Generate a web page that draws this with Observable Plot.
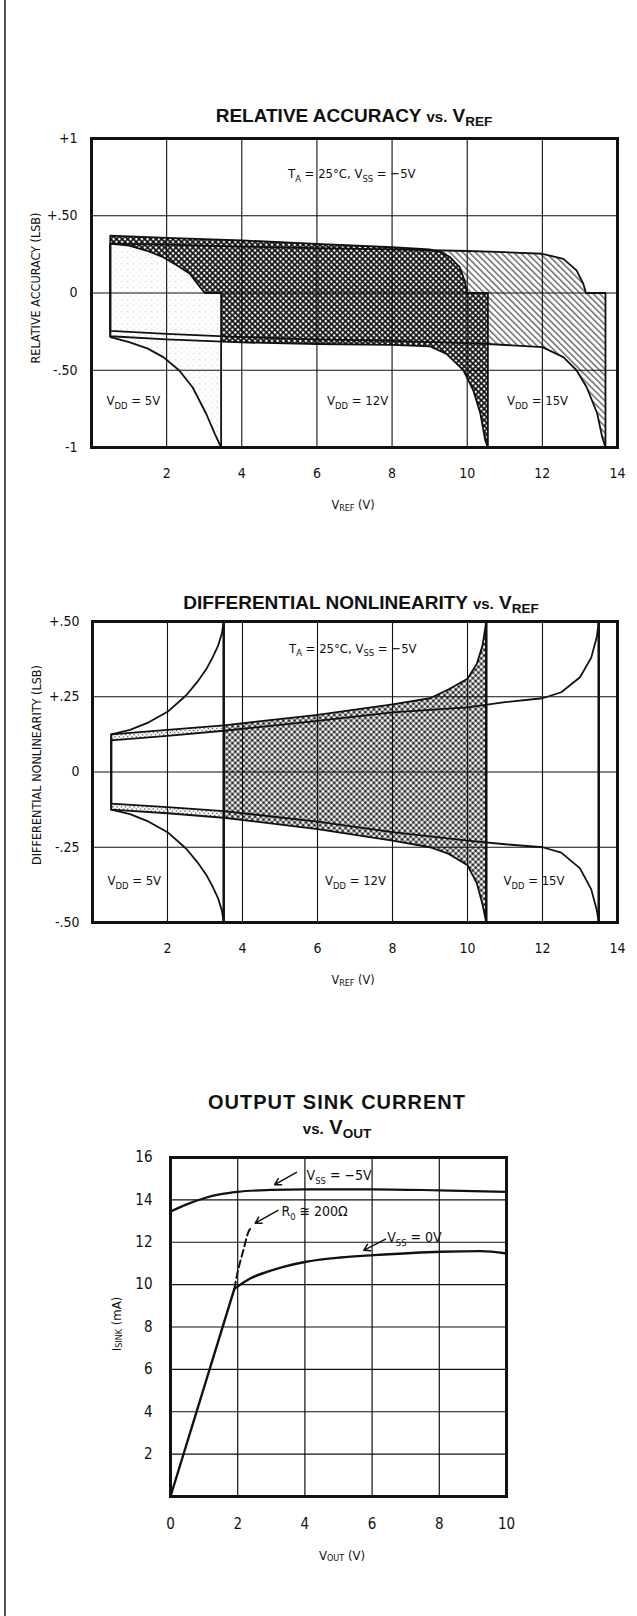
<!DOCTYPE html>
<html>
<head>
<meta charset="utf-8">
<script src="https://cdn.jsdelivr.net/npm/d3@7"></script>
<script src="https://cdn.jsdelivr.net/npm/@observablehq/plot@0.6"></script>
<style>
html,body{margin:0;padding:0;background:#fff;}
#page{position:relative;width:637px;height:1616px;overflow:hidden;font-family:"Liberation Sans",Arial,sans-serif;color:#111;}
.edge{position:absolute;left:4px;top:0;width:1.5px;height:1616px;background:#555;}
.chart{position:absolute;left:0;}
.title{position:absolute;font-weight:bold;font-size:19px;white-space:nowrap;transform:translate(-50%,-50%);line-height:1;}
.title .vs{font-size:15px;}
.title sub{font-size:13.5px;vertical-align:-0.3em;line-height:0;}
.lab{position:absolute;font-family:"Liberation Sans Narrow","DejaVu Sans Condensed",sans-serif;font-size:12.5px;white-space:nowrap;line-height:1;}
.lab sub{font-size:9px;vertical-align:-0.2em;line-height:0;}
.xl{transform:translate(-50%,-50%);}
.yl{transform:translate(-50%,-50%) rotate(-90deg);}
</style>
</head>
<body>
<div id="page">
  <div class="edge"></div>
  <div id="c1" class="chart" style="top:100px"></div>
  <div id="c2" class="chart" style="top:590px"></div>
  <div id="c3" class="chart" style="top:1140px"></div>

  <div class="title" style="left:354px;top:115px">RELATIVE ACCURACY <span class="vs">vs.</span> V<sub>REF</sub></div>
  <div class="lab yl" style="left:36px;top:288px">RELATIVE ACCURACY (LSB)</div>
  <div class="lab xl" style="left:353px;top:505px">V<sub>REF</sub> (V)</div>

  <div class="title" style="left:361px;top:602px">DIFFERENTIAL NONLINEARITY <span class="vs">vs.</span> V<sub>REF</sub></div>
  <div class="lab yl" style="left:37px;top:765px">DIFFERENTIAL NONLINEARITY (LSB)</div>
  <div class="lab xl" style="left:353px;top:980px">V<sub>REF</sub> (V)</div>

  <div class="title" style="left:337px;top:1102px;font-size:20px;font-weight:600;letter-spacing:1px">OUTPUT SINK CURRENT</div>
  <div class="title" style="left:337px;top:1127px;font-size:20px;font-weight:600"><span class="vs">vs.</span> V<sub>OUT</sub></div>
  <div class="lab yl" style="left:116px;top:1324px;font-size:13px">I<sub>SINK</sub> (mA)</div>
  <div class="lab xl" style="left:342px;top:1555px;font-size:13px">V<sub>OUT</sub> (V)</div>
</div>
<script>
// ---------------- DATA ----------------
const vrefTicks = [2, 4, 6, 8, 10, 12, 14];
const vrefGrid = [2, 4, 6, 8, 10, 12];

const raTicks = [1, 0.5, 0, -0.5, -1];
const raTickLabels = ["+1", "+.50", "0", "-.50", "-1"];
const raGrid = [0.5, 0, -0.5];

const dnlTicks = [0.5, 0.25, 0, -0.25, -0.5];
const dnlTickLabels = ["+.50", "+.25", "0", "-.25", "-.50"];
const dnlGrid = [0.25, 0, -0.25];

const voutTicks = [0, 2, 4, 6, 8, 10];
const voutGrid = [2, 4, 6, 8];
const isinkTicks = [2, 4, 6, 8, 10, 12, 14, 16];
const isinkGrid = [2, 4, 6, 8, 10, 12, 14];

// Relative accuracy band edges: [VREF (V), LSB]
const ra5Upper = [[0.5,0.32],[1,0.307],[1.46,0.275],[1.91,0.232],[2.3,0.175],[2.62,0.124],[2.89,0.038],[3.02,0],[3.45,0]];
const ra5Lower = [[0.5,-0.285],[1,-0.318],[1.5,-0.36],[1.91,-0.415],[2.33,-0.5],[2.69,-0.61],[3.05,-0.78],[3.28,-0.91],[3.45,-1]];
const ra12Upper = [[0.5,0.372],[2,0.357],[4,0.34],[6,0.318],[8,0.296],[9,0.282],[9.3,0.265],[9.54,0.232],[9.8,0.167],[9.93,0.08],[10.0,0],[10.55,0]];
const ra12Lower = [[0.5,-0.28],[2,-0.3],[4,-0.32],[6,-0.33],[8,-0.336],[9,-0.345],[9.45,-0.394],[9.9,-0.5],[10.16,-0.63],[10.35,-0.78],[10.48,-0.955],[10.55,-1]];
const ra15Upper = [[0.5,0.32],[2,0.313],[4,0.3],[6,0.29],[8,0.282],[10,0.272],[11,0.264],[12,0.254],[12.56,0.221],[12.91,0.146],[13.09,0.06],[13.16,0],[13.68,0]];
const ra15Lower = [[0.5,-0.245],[2,-0.265],[4,-0.285],[6,-0.3],[8,-0.31],[10,-0.325],[10.55,-0.33],[12,-0.35],[12.56,-0.415],[12.91,-0.5],[13.18,-0.61],[13.46,-0.78],[13.59,-0.93],[13.68,-1]];
const raNotes = [
  {x: 5.23, y: 0.77, text: "T_{A} = 25°C, V_{SS} = −5V"},
  {x: 0.4, y: -0.7, text: "V_{DD} = 5V"},
  {x: 6.27, y: -0.7, text: "V_{DD} = 12V"},
  {x: 11.06, y: -0.7, text: "V_{DD} = 15V"}
];

// Differential nonlinearity band edges: [VREF (V), LSB]
const dnl5Upper = [[0.5,0.125],[1,0.14],[1.5,0.165],[2,0.2],[2.5,0.255],[2.8,0.3],[3.05,0.345],[3.2,0.38],[3.35,0.42],[3.45,0.46],[3.5,0.5]];
const dnl5Lower = [[0.5,-0.125],[1,-0.14],[1.5,-0.165],[2,-0.2],[2.5,-0.255],[2.8,-0.3],[3.05,-0.345],[3.2,-0.38],[3.35,-0.42],[3.45,-0.46],[3.5,-0.5]];
const dnl12Upper = [[0.5,0.125],[2,0.14],[3.5,0.155],[6,0.19],[8,0.225],[9,0.245],[9.5,0.275],[10,0.31],[10.25,0.36],[10.4,0.42],[10.5,0.5]];
const dnl12Lower = [[0.5,-0.125],[2,-0.137],[3.5,-0.152],[6,-0.19],[8,-0.228],[9,-0.25],[9.5,-0.272],[10,-0.31],[10.25,-0.37],[10.4,-0.44],[10.5,-0.5]];
const dnl15Upper = [[0.5,0.105],[2,0.12],[3.5,0.137],[6,0.17],[8,0.198],[10,0.215],[11,0.232],[12,0.245],[12.5,0.265],[13,0.315],[13.3,0.38],[13.45,0.45],[13.5,0.5]];
const dnl15Lower = [[0.5,-0.105],[2,-0.117],[3.5,-0.13],[6,-0.165],[8,-0.2],[10,-0.228],[11,-0.24],[12,-0.25],[12.5,-0.268],[13,-0.32],[13.3,-0.39],[13.45,-0.46],[13.5,-0.5]];
const dnlLimits = [3.5, 10.5, 13.5];
const dnlNotes = [
  {x: 5.24, y: 0.41, text: "T_{A} = 25°C, V_{SS} = −5V"},
  {x: 0.4, y: -0.363, text: "V_{DD} = 5V"},
  {x: 6.2, y: -0.363, text: "V_{DD} = 12V"},
  {x: 10.96, y: -0.363, text: "V_{DD} = 15V"}
];

// Output sink current: [VOUT (V), ISINK (mA)]
const sinkVss5 = [[0,13.45],[0.5,13.8],[1,14.08],[1.5,14.27],[2,14.38],[3,14.47],[4,14.5],[6,14.5],[8,14.45],[10,14.38]];
const sinkVss0Rise = [[0,0],[1.9,9.8]];
const sinkVss0 = [[1.9,9.8],[2.37,10.29],[2.87,10.6],[3.36,10.84],[4.04,11.08],[5.05,11.28],[6.05,11.39],[8.05,11.55],[9.22,11.58],[10,11.47]];
const sinkR0 = [[1.9,9.8],[1.99,10.53],[2.17,11.63],[2.32,12.49],[2.42,12.7]];
const sinkNotes = [
  {x: 4.05, y: 15.15, text: "V_{SS} = −5V"},
  {x: 3.3, y: 13.45, text: "R_{0} ≅ 200Ω"},
  {x: 6.45, y: 12.2, text: "V_{SS} = 0V"}
];
const sinkArrows = [
  {x1: 3.75, y1: 15.3, x2: 3.1, y2: 14.72},
  {x1: 3.2, y1: 13.5, x2: 2.52, y2: 12.9},
  {x1: 6.4, y1: 12.15, x2: 5.75, y2: 11.62}
];

// ---------------- HELPERS ----------------
const NS = "http://www.w3.org/2000/svg";
const pts = a => a.map(([x, y]) => ({x, y}));
const ring = (u, l) => pts([...u, ...l.slice().reverse(), u[0]]);
const narrow = "'Liberation Sans Narrow','DejaVu Sans Condensed','Liberation Sans',sans-serif";
const INK = "#111";

function addDefs(svg, html) {
  const defs = document.createElementNS(NS, "defs");
  defs.innerHTML = html;
  svg.insertBefore(defs, svg.firstChild);
}
function subscripts(svg) {
  svg.querySelectorAll("text").forEach(t => {
    const s = t.textContent;
    if (!s.includes("_{")) return;
    while (t.firstChild) t.removeChild(t.firstChild);
    const fs = parseFloat(t.getAttribute("font-size") || 13);
    const shift = fs * 0.28;
    const re = /_\{([^}]*)\}/g;
    let last = 0, m, prevSub = false;
    const add = (str, sub) => {
      const ts = document.createElementNS(NS, "tspan");
      ts.textContent = str;
      if (sub) { ts.setAttribute("font-size", fs * 0.72); ts.setAttribute("dy", shift); }
      else if (prevSub) ts.setAttribute("dy", -shift);
      prevSub = sub;
      t.appendChild(ts);
    };
    while ((m = re.exec(s))) {
      if (m.index > last) add(s.slice(last, m.index), false);
      add(m[1], true);
      last = re.lastIndex;
    }
    if (last < s.length) add(s.slice(last), false);
  });
}

// ---------------- CHART 1: RELATIVE ACCURACY ----------------
const c1 = Plot.plot({
  width: 637, height: 420,
  marginTop: 38, marginBottom: 73, marginLeft: 91, marginRight: 20,
  style: {fontFamily: narrow, fontSize: "14px", color: INK, background: "transparent"},
  x: {domain: [0, 14], ticks: vrefTicks, tickSize: 0, tickPadding: 21, label: null},
  y: {domain: [-1, 1], ticks: raTicks, tickFormat: d => raTickLabels[raTicks.indexOf(d)], tickSize: 0, tickPadding: 14, label: null},
  marks: [
    Plot.line(ring(ra15Upper, ra15Lower), {x: "x", y: "y", fill: "url(#raHatch)", stroke: "none"}),
    Plot.line(ring(ra12Upper, ra12Lower), {x: "x", y: "y", fill: "url(#raX)", stroke: "none"}),
    Plot.line(ring(ra5Upper, ra5Lower), {x: "x", y: "y", fill: "url(#raLight)", stroke: "none"}),
    Plot.ruleX(vrefGrid, {stroke: INK, strokeWidth: 1.1}),
    Plot.ruleY(raGrid, {stroke: INK, strokeWidth: 1.1}),
    Plot.line(ring(ra15Upper, ra15Lower), {x: "x", y: "y", stroke: INK, strokeWidth: 1.8}),
    Plot.line(ring(ra12Upper, ra12Lower), {x: "x", y: "y", stroke: INK, strokeWidth: 1.8}),
    Plot.line(ring(ra5Upper, ra5Lower), {x: "x", y: "y", stroke: INK, strokeWidth: 1.8}),
    Plot.text(raNotes, {x: "x", y: "y", text: "text", textAnchor: "start", fontSize: 13, fill: INK}),
    Plot.frame({stroke: INK, strokeWidth: 3})
  ]
});
addDefs(c1, `
<pattern id="raX" width="4" height="4" patternUnits="userSpaceOnUse" patternTransform="rotate(45)">
  <rect width="4" height="4" fill="#111"/><circle cx="2" cy="2" r="1.35" fill="#fff"/></pattern>
<pattern id="raHatch" width="4.5" height="4.5" patternUnits="userSpaceOnUse" patternTransform="rotate(45)">
  <rect width="4.5" height="4.5" fill="#fff"/><line x1="0" y1="1" x2="4.5" y2="1" stroke="#222" stroke-width="1"/></pattern>
<pattern id="raLight" width="6" height="6" patternUnits="userSpaceOnUse">
  <rect width="6" height="6" fill="#fff"/><circle cx="1" cy="1" r="0.6" fill="#999"/><circle cx="4" cy="4" r="0.5" fill="#bbb"/></pattern>`);
subscripts(c1);
document.getElementById("c1").append(c1);

// ---------------- CHART 2: DIFFERENTIAL NONLINEARITY ----------------
const inCore = p => p[0] >= 3.5;
const inLeft = p => p[0] <= 3.5;
const c2 = Plot.plot({
  width: 637, height: 410,
  marginTop: 31, marginBottom: 78, marginLeft: 92, marginRight: 20,
  style: {fontFamily: narrow, fontSize: "14px", color: INK, background: "transparent"},
  x: {domain: [0, 14], ticks: vrefTicks, tickSize: 0, tickPadding: 21, label: null},
  y: {domain: [-0.5, 0.5], ticks: dnlTicks, tickFormat: d => dnlTickLabels[dnlTicks.indexOf(d)], tickSize: 0, tickPadding: 13, label: null},
  marks: [
    Plot.line(ring(dnl12Upper.filter(inCore), dnl12Lower.filter(inCore)), {x: "x", y: "y", fill: "url(#dnlX)", stroke: "none"}),
    Plot.line(ring(dnl12Upper.filter(inLeft), dnl15Upper.filter(inLeft)), {x: "x", y: "y", fill: "url(#dnlStrip)", stroke: "none"}),
    Plot.line(ring(dnl12Lower.filter(inLeft), dnl15Lower.filter(inLeft)), {x: "x", y: "y", fill: "url(#dnlStrip)", stroke: "none"}),
    Plot.ruleX(vrefGrid, {stroke: INK, strokeWidth: 1.1}),
    Plot.ruleY(dnlGrid, {stroke: INK, strokeWidth: 1.1}),
    Plot.ruleX(dnlLimits, {stroke: INK, strokeWidth: 2.4}),
    Plot.line(ring(dnl15Upper, dnl15Lower), {x: "x", y: "y", stroke: INK, strokeWidth: 1.8}),
    Plot.line(ring(dnl12Upper, dnl12Lower), {x: "x", y: "y", stroke: INK, strokeWidth: 1.8}),
    Plot.line(ring(dnl5Upper, dnl5Lower), {x: "x", y: "y", stroke: INK, strokeWidth: 1.8}),
    Plot.text(dnlNotes, {x: "x", y: "y", text: "text", textAnchor: "start", fontSize: 13, fill: INK}),
    Plot.frame({stroke: INK, strokeWidth: 3})
  ]
});
addDefs(c2, `
<pattern id="dnlX" width="4" height="4" patternUnits="userSpaceOnUse" patternTransform="rotate(45)">
  <rect width="4" height="4" fill="#111"/><circle cx="2" cy="2" r="1.75" fill="#fff"/></pattern>
<pattern id="dnlStrip" width="3" height="3" patternUnits="userSpaceOnUse" patternTransform="rotate(45)">
  <rect width="3" height="3" fill="#fff"/><circle cx="1.5" cy="1.5" r="0.75" fill="#333"/></pattern>`);
subscripts(c2);
document.getElementById("c2").append(c2);

// ---------------- CHART 3: OUTPUT SINK CURRENT ----------------
const c3 = Plot.plot({
  width: 637, height: 440,
  marginTop: 17, marginBottom: 84, marginLeft: 170, marginRight: 131,
  style: {fontFamily: narrow, fontSize: "15px", color: INK, background: "transparent"},
  x: {domain: [0, 10], ticks: voutTicks, tickSize: 0, tickPadding: 22, label: null},
  y: {domain: [0, 16], ticks: isinkTicks, tickSize: 0, tickPadding: 18, label: null},
  marks: [
    Plot.ruleX(voutGrid, {stroke: INK, strokeWidth: 1.2}),
    Plot.ruleY(isinkGrid, {stroke: INK, strokeWidth: 1.2}),
    Plot.line(pts(sinkVss5), {x: "x", y: "y", stroke: INK, strokeWidth: 2.2, curve: "monotone-x"}),
    Plot.line(pts(sinkVss0Rise), {x: "x", y: "y", stroke: INK, strokeWidth: 2.4}),
    Plot.line(pts(sinkVss0), {x: "x", y: "y", stroke: INK, strokeWidth: 2.4, curve: "monotone-x"}),
    Plot.line(pts(sinkR0), {x: "x", y: "y", stroke: INK, strokeWidth: 2, strokeDasharray: "7,4", curve: "monotone-x"}),
    Plot.arrow(sinkArrows, {x1: "x1", y1: "y1", x2: "x2", y2: "y2", stroke: INK, strokeWidth: 1.5, headLength: 7}),
    Plot.text(sinkNotes, {x: "x", y: "y", text: "text", textAnchor: "start", fontSize: 14, fill: INK}),
    Plot.frame({stroke: INK, strokeWidth: 3})
  ]
});
subscripts(c3);
document.getElementById("c3").append(c3);
</script>
</body>
</html>
